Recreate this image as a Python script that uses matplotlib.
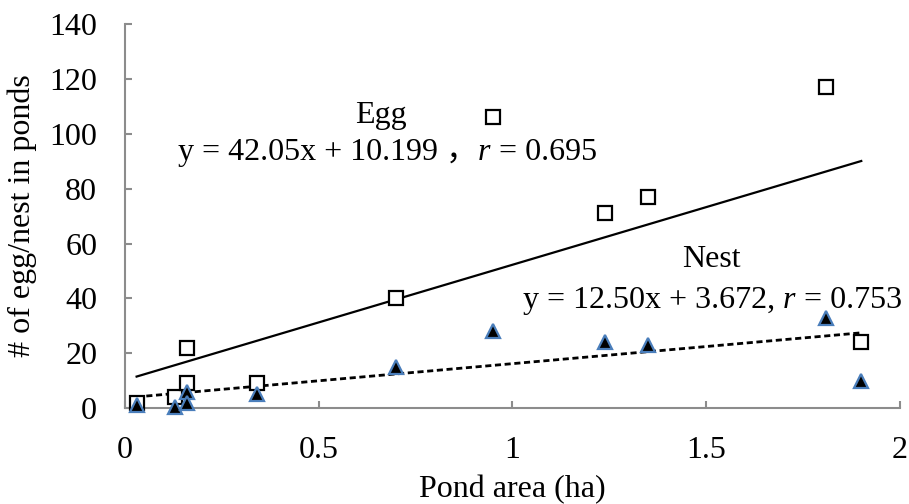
import numpy as np
import matplotlib.pyplot as plt

# pond area (ha) and counts
area = [0.03, 0.13, 0.16, 0.16, 0.34, 0.70, 0.95, 1.24, 1.35, 1.81, 1.90]
eggs = [2, 4, 22, 9, 9, 40, 106, 71, 77, 117, 24]
nest_area = [0.03, 0.13, 0.16, 0.16, 0.34, 0.70, 0.95, 1.24, 1.35, 1.81, 1.90]
nests = [1, 0.5, 6, 2, 5, 15, 28, 24, 23, 33, 10]

egg_fit = (42.05, 10.199)
nest_fit = (12.50, 3.672)

serif = 'Liberation Serif'
plt.rcParams['font.family'] = [serif, 'Noto Sans CJK SC']

fig = plt.figure(figsize=(9.09, 5.04), dpi=100)
ax = fig.add_axes([0.1375, 0.1905, 0.8526, 0.7615])

gray = '#8c8c8c'
blue = '#4a7ebb'

xs = np.array([min(area), max(area)])
ax.plot(xs, egg_fit[0] * xs + egg_fit[1], color='black', lw=1.6, zorder=2)
xn = np.array([min(nest_area), max(nest_area)])
ax.plot(xn, nest_fit[0] * xn + nest_fit[1], color='black', lw=2.0,
        dashes=(2.2, 1.3), zorder=2)

ax.plot(area, eggs, 's', ms=10, mfc='white', mec='black', mew=1.6, zorder=3,
        clip_on=False)
ax.plot(nest_area, nests, '^', ms=9.5, mfc='black', mec=blue, mew=1.6, zorder=4,
        clip_on=False)

ax.set_xlim(0, 2)
ax.set_ylim(0, 140)
ax.set_xticks([0, 0.5, 1, 1.5, 2])
ax.set_xticklabels(['0', '0.5', '1', '1.5', '2'])
ax.set_yticks(range(0, 141, 20))

for s in ['top', 'right']:
    ax.spines[s].set_visible(False)
for s in ['left', 'bottom']:
    ax.spines[s].set_color(gray)
    ax.spines[s].set_linewidth(1.5)
    ax.spines[s].set_zorder(1)

ax.tick_params(axis='both', direction='in', length=5, width=1.5, color=gray,
               labelsize=23, pad=20)
ax.set_xlabel('Pond area (ha)', fontsize=23)
ax.set_ylabel('# of egg/nest in ponds', fontsize=23)
ax.xaxis.label.set_va('center')
ax.yaxis.label.set_va('center')
ax.xaxis.set_label_coords(0.5, -0.2135)
ax.yaxis.set_label_coords(-0.133, 0.5)

# regression annotations
fs = 23
ax.text(0.66, 106.8, 'Egg', fontsize=fs, ha='center', va='center')
ax.text(1.513, 54, 'Nest', fontsize=fs, ha='center', va='center')


def equation(x, y, first, sep, value):
    t = ax.text(x, y, first, fontsize=fs, ha='left', va='baseline')
    t = ax.annotate(sep + 'r', xycoords=t, xy=(1, 0), fontsize=fs, va='bottom',
                    fontstyle='italic', family=serif)
    ax.annotate(' = ' + value, xycoords=t, xy=(1, 0), fontsize=fs,
                va='bottom', family=serif)


equation(0.137, 90.4, 'y = 42.05x + 10.199 \uff0c', '', '0.695')
equation(1.027, 36.3, 'y = 12.50x + 3.672,', ' ', '0.753')

fig.savefig('out.png', dpi=100)
